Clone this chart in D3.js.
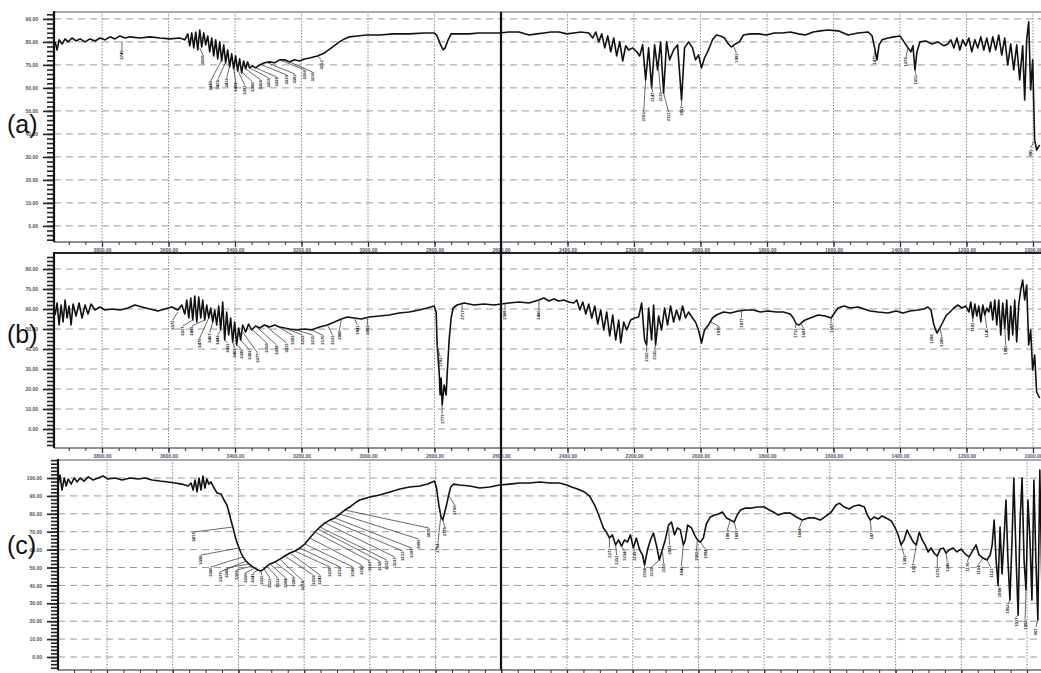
<!DOCTYPE html>
<html>
<head>
<meta charset="utf-8">
<script src="https://cdn.jsdelivr.net/npm/d3@7"></script>
<style>
  body { margin: 0; background: #fff; }
  svg { display: block; }
</style>
</head>
<body>
<div id="chart"></div>
<script>
// spectra: [wavenumber (cm-1), intensity]
const specA = [
  [3941,80.0],[3935,76.5],[3929,80.9],[3920,79.1],[3911,81.3],[3902,80.0],[3890,81.7],[3878,80.4],[3866,81.3],[3851,80.0],
  [3836,81.3],[3821,80.4],[3806,81.7],[3791,80.9],[3776,82.2],[3761,81.3],[3746,82.6],[3731,81.7],[3716,82.2],[3686,81.7],
  [3656,82.2],[3626,81.7],[3596,81.3],[3566,81.7],[3551,80.9],
  [3542,83.5],[3536,78.3],[3530,83.9],[3524,77.4],[3518,84.3],[3512,76.5],[3506,85.2],[3500,77.8],[3494,83.9],[3488,78.7],
  [3482,82.6],[3476,75.7],[3470,81.7],[3464,73.9],[3458,80.9],[3452,72.6],[3446,80.0],[3440,71.7],[3434,78.7],[3428,70.9],
  [3422,76.5],[3416,69.1],[3410,74.8],[3404,68.3],[3398,73.9],[3392,67.4],[3386,72.6],[3380,66.5],[3374,71.7],[3368,68.3],
  [3362,71.3],[3356,68.7],[3347,69.6],[3338,68.7],[3326,70.0],[3311,70.9],[3296,71.3],[3281,70.9],[3266,72.2],[3251,72.2],
  [3236,71.3],[3221,72.2],[3206,71.7],[3191,72.6],[3176,73.0],[3152,73.9],[3131,75.2],[3110,77.4],[3086,80.0],[3071,81.3],
  [3056,82.2],[3032,82.6],[3005,83.0],[2966,83.0],[2921,83.5],[2876,83.5],[2831,83.9],[2801,83.9],[2792,82.6],[2783,79.1],
  [2774,76.5],[2768,77.4],[2759,80.9],[2750,83.5],[2726,83.5],[2696,83.5],[2666,83.9],[2636,83.9],[2606,83.9],[2576,84.3],
  [2546,84.3],[2516,83.0],[2492,83.5],[2471,83.9],[2450,84.3],[2426,84.3],[2402,83.5],[2381,83.9],[2360,84.3],[2336,83.9],
  [2324,81.7],[2315,84.3],[2306,80.0],[2297,83.5],[2288,77.4],[2279,82.6],[2270,75.7],[2261,81.7],[2252,73.9],[2243,80.0],
  [2234,71.7],[2225,78.3],[2216,76.5],[2204,77.4],[2192,75.7],[2183,73.9],
  [2174,78.7],[2165,63.5],[2156,77.4],[2147,60.0],[2138,78.7],[2129,67.8],[2120,80.0],[2111,57.8],[2102,80.0],[2093,72.2],
  [2081,76.5],[2069,78.7],[2057,54.8],[2048,77.4],[2036,80.0],[2024,77.4],[2015,72.2],[2006,74.3],[1997,68.7],[1988,73.0],
  [1976,76.5],[1964,80.9],[1952,83.0],[1940,82.6],[1928,81.7],[1916,79.1],[1907,77.8],[1895,79.1],[1883,80.0],[1871,83.0],
  [1850,83.5],[1826,83.5],[1802,83.0],[1778,83.9],[1754,83.9],[1730,84.3],[1706,83.5],[1685,83.0],[1661,84.3],[1640,84.8],
  [1616,85.2],[1586,84.8],[1556,83.0],[1526,83.9],[1496,84.3],[1484,82.6],[1475,76.5],[1469,72.2],[1463,78.7],[1454,80.9],
  [1436,81.7],[1418,82.2],[1400,82.6],[1388,80.0],[1376,77.4],[1367,75.7],[1361,78.3],[1355,67.8],[1349,75.7],[1340,80.0],
  [1322,80.4],[1304,79.1],[1286,80.0],[1268,78.3],[1256,79.1],
  [1247,80.9],[1238,77.4],[1229,81.7],[1220,76.5],[1211,80.9],[1202,78.3],[1193,81.7],[1184,75.7],[1175,80.9],[1166,77.4],
  [1157,82.2],[1148,76.5],[1139,81.7],[1130,75.7],[1121,82.2],[1112,76.5],[1103,83.0],[1094,74.3],[1085,81.7],[1076,70.0],
  [1067,79.1],[1058,67.8],[1049,78.7],[1040,63.5],[1031,78.3],[1025,54.8],[1019,80.9],[1013,88.7],[1007,59.1],[1001,72.2],
  [995,37.4],[989,33.0],[980,35.2]
];

const specB = [
  [3941,57.0],[3935,63.0],[3929,52.0],[3923,62.0],[3917,53.5],[3911,64.5],[3905,55.5],[3899,61.5],[3893,52.0],[3887,62.5],
  [3878,56.5],[3869,63.0],[3860,55.5],[3851,62.0],[3842,57.5],[3833,62.5],[3821,59.5],[3806,61.0],[3791,59.5],[3770,60.0],
  [3746,59.5],[3722,60.5],[3701,62.0],[3680,61.0],[3656,60.0],[3632,59.0],[3611,60.0],[3590,61.0],[3572,59.5],[3560,62.0],
  [3551,57.5],[3545,64.5],[3539,55.5],[3533,65.5],[3527,54.5],[3521,66.5],[3515,53.5],[3509,66.0],[3503,55.5],[3497,64.5],
  [3491,54.5],[3485,62.0],[3479,55.5],[3473,60.5],[3467,53.5],[3461,59.5],[3455,52.0],[3449,61.5],[3443,49.5],[3437,63.5],
  [3431,44.5],[3425,58.5],[3419,47.0],[3413,55.5],[3407,43.5],[3401,53.5],[3395,42.0],[3389,50.5],[3383,44.5],[3377,52.0],
  [3368,48.5],[3359,52.5],[3350,49.5],[3338,51.5],[3326,50.5],[3311,52.0],[3296,51.0],[3281,52.0],[3266,51.0],[3251,50.5],
  [3236,50.0],[3215,49.5],[3191,50.0],[3170,49.5],[3146,51.0],[3122,52.0],[3101,53.5],[3080,55.0],[3062,56.0],[3041,55.5],
  [3020,55.0],[2996,56.0],[2966,56.5],[2936,57.0],[2906,58.0],[2876,58.5],[2846,59.5],[2822,60.5],[2801,61.5],[2795,58.5],
  [2792,42.0],[2786,28.5],[2783,17.0],[2780,25.5],[2777,12.0],[2771,22.0],[2765,17.0],[2762,27.0],[2756,44.5],[2750,55.5],
  [2744,60.5],[2732,62.0],[2711,63.0],[2681,62.0],[2651,62.5],[2621,62.0],[2600,62.5],[2576,63.0],[2546,63.5],[2516,63.0],
  [2486,64.5],[2471,65.5],[2456,64.0],[2441,65.0],[2426,64.0],[2411,64.5],[2396,63.5],[2381,63.0],
  [2372,64.5],[2363,59.5],[2354,63.5],[2345,57.5],[2336,62.5],[2327,55.5],[2318,61.5],[2309,52.5],[2300,59.5],[2291,49.5],
  [2282,58.5],[2273,46.5],[2264,57.0],[2255,44.5],[2246,54.5],[2240,43.0],[2231,53.5],[2222,49.5],[2210,54.5],[2198,55.5],
  [2186,56.0],[2177,63.0],[2168,44.5],[2162,42.0],[2156,60.5],[2147,44.5],[2141,62.0],[2135,42.0],[2126,56.5],[2117,49.5],
  [2108,60.5],[2099,52.0],[2090,61.5],[2081,53.5],[2072,59.5],[2063,54.5],[2054,61.5],[2045,55.5],[2036,58.5],[2024,55.5],
  [2015,53.5],[2006,49.5],[1997,43.0],[1988,49.5],[1976,52.0],[1964,55.5],[1952,57.0],[1931,58.5],[1910,58.0],[1886,59.0],
  [1862,59.5],[1841,59.5],[1820,58.5],[1796,59.0],[1772,58.5],[1751,58.5],[1730,57.5],[1721,55.5],[1712,52.5],[1703,52.0],
  [1694,53.5],[1685,54.5],[1670,55.5],[1646,57.0],[1625,56.5],[1607,55.5],[1595,58.5],[1586,60.5],[1568,61.5],[1550,60.5],
  [1526,61.0],[1508,60.0],[1490,59.0],[1466,58.5],[1436,58.0],[1412,59.0],[1391,58.0],[1370,59.0],[1346,59.5],[1328,60.0],
  [1316,61.0],[1307,59.5],[1298,52.0],[1289,48.0],[1280,50.5],[1271,53.5],[1262,56.5],[1250,58.5],[1238,60.5],[1226,62.0],
  [1214,60.5],[1202,61.5],
  [1193,58.5],[1187,63.5],[1181,55.5],[1175,62.5],[1169,56.5],[1163,61.5],[1157,53.5],[1151,62.0],[1145,57.0],[1139,60.5],
  [1133,58.5],[1127,63.5],[1121,54.5],[1115,64.5],[1109,52.0],[1103,64.5],[1097,47.0],[1091,63.0],[1085,50.5],[1079,64.5],
  [1073,44.5],[1067,61.5],[1061,47.0],[1055,64.5],[1049,43.5],[1043,62.0],[1037,69.5],[1031,74.5],[1025,64.5],[1019,72.0],
  [1013,42.0],[1007,49.5],[1001,29.5],[995,37.0],[989,18.5],[980,15.5]
];

const specC = [
  [3949,96.1],[3943,101.7],[3937,93.3],[3930,100.0],[3924,95.5],[3918,99.4],[3909,96.6],[3900,100.0],[3891,97.8],[3882,100.0],
  [3870,98.3],[3857,100.6],[3842,98.9],[3827,100.0],[3812,101.1],[3797,99.4],[3775,100.0],[3754,98.9],[3730,100.0],[3705,99.4],
  [3684,100.0],[3663,98.9],[3639,98.3],[3614,97.8],[3593,97.2],[3572,96.6],[3553,95.5],[3544,97.2],
  [3538,93.3],[3532,98.9],[3526,92.2],[3520,100.0],[3514,93.3],[3508,101.1],[3502,94.4],[3496,99.4],[3490,96.6],[3484,97.8],
  [3474,94.4],[3465,91.6],[3453,91.1],[3444,87.7],[3435,84.9],[3429,81.0],[3423,76.5],[3417,72.6],[3411,68.2],[3405,64.2],
  [3398,60.9],[3392,58.1],[3386,55.9],[3377,53.6],[3368,52.0],[3359,50.8],[3350,49.7],[3341,48.6],[3332,48.0],[3322,49.2],
  [3313,50.8],[3304,52.0],[3289,53.1],[3274,54.7],[3259,56.4],[3243,58.1],[3228,59.2],[3213,60.9],[3198,63.1],[3183,66.5],
  [3167,69.8],[3152,72.6],[3137,74.9],[3122,76.5],[3107,77.7],[3091,79.9],[3076,82.1],[3061,83.8],[3046,86.0],[3031,87.7],
  [3000,89.4],[2970,90.5],[2939,92.2],[2909,93.9],[2879,95.0],[2848,95.5],[2824,96.6],[2803,98.3],[2797,94.4],[2790,84.9],
  [2784,78.8],[2778,76.5],[2772,81.0],[2766,85.5],[2760,90.5],[2754,95.0],[2745,96.6],[2727,96.1],[2696,95.5],[2666,94.4],
  [2635,95.0],[2605,96.1],[2575,96.6],[2544,97.2],[2514,97.2],[2483,97.8],[2453,97.2],[2423,97.2],[2401,96.1],[2386,95.0],
  [2368,93.9],[2347,92.2],[2331,89.9],[2316,84.9],[2307,81.0],[2298,76.5],[2289,72.1],[2280,69.8],[2271,66.5],[2262,68.2],
  [2252,62.6],[2243,65.4],[2234,62.0],[2225,65.4],[2216,64.2],[2207,68.2],[2198,60.9],[2189,66.5],[2179,59.8],[2170,57.0],
  [2164,51.4],[2155,59.8],[2146,65.4],[2137,69.3],[2128,62.6],[2119,54.2],[2110,59.8],[2101,65.4],[2091,73.7],[2082,75.4],
  [2073,68.2],[2064,72.1],[2055,71.0],[2046,62.6],[2040,65.4],[2033,73.7],[2021,72.1],[2012,68.2],[2003,65.4],[1994,64.2],
  [1985,66.5],[1976,74.3],[1964,78.2],[1951,79.3],[1939,79.9],[1927,81.0],[1915,77.7],[1903,76.5],[1891,75.4],[1882,79.3],
  [1872,82.1],[1857,83.2],[1839,83.2],[1821,83.8],[1800,83.8],[1784,82.1],[1772,81.0],[1757,79.3],[1739,80.4],[1720,80.4],
  [1702,78.2],[1684,76.5],[1666,77.7],[1647,77.7],[1629,76.5],[1611,78.8],[1596,81.0],[1581,84.9],[1571,86.0],[1556,83.8],
  [1541,82.7],[1526,84.4],[1511,84.9],[1495,83.8],[1486,79.3],[1477,76.5],[1465,78.2],[1453,77.1],[1441,78.8],[1429,77.7],
  [1413,76.0],[1401,72.1],[1392,68.2],[1383,62.6],[1374,65.4],[1365,70.9],[1356,67.6],[1346,64.2],[1337,62.6],[1328,69.8],
  [1319,65.4],[1310,62.6],[1301,58.7],[1292,60.9],[1283,58.1],[1273,56.4],[1264,60.3],[1255,60.9],[1246,58.1],[1237,59.8],
  [1225,60.9],[1213,58.7],[1201,60.3],[1188,57.5],[1176,55.9],[1164,59.8],[1155,62.6],[1146,57.0],[1134,55.3],[1122,54.2],
  [1112,57.0],
  [1106,62.6],[1100,76.5],[1094,54.2],[1088,40.2],[1082,72.6],[1076,46.4],[1070,65.9],[1064,87.7],[1058,54.2],[1052,31.8],
  [1046,62.6],[1040,100.0],[1033,54.2],[1027,23.5],[1021,76.5],[1015,100.0],[1009,54.2],[1003,37.4],[997,87.7],[991,65.4],
  [985,31.8],[979,98.9],[973,54.2],[967,20.7],[961,104.5],[954,31.8]
];

// picked peaks: [peak wavenumber, peak intensity, label wavenumber, label intensity]
const peaksA = [
  [3740,80.4,3740,74.3],[3506,77.4,3497,72.2],
  [3440,72.2,3473,60.9],[3428,71.3,3452,61.3],[3416,69.6,3425,62.2],[3404,68.7,3398,60.4],[3392,67.8,3371,59.1],
  [3380,67.0,3347,60.4],[3368,68.3,3323,61.3],[3356,68.7,3299,62.2],[3338,68.7,3275,62.6],[3320,70.0,3245,63.5],
  [3302,70.9,3221,63.9],[3266,72.2,3191,65.7],[3236,71.3,3167,64.8],[3152,73.9,3140,70.0],
  [2165,63.5,2171,47.4],[2147,60.9,2144,56.0],[2126,67.8,2120,56.1],[2111,57.8,2096,47.4],[2057,54.8,2057,50.0],
  [1901,78.3,1892,73.0],[1475,76.5,1478,72.2],[1376,77.4,1382,71.3],[1355,67.8,1352,63.5],[995,37.4,1007,31.7]
];

const peaksB = [
  [3572,58.5,3587,52.0],[3527,54.5,3557,49.0],[3491,54.5,3530,49.0],[3479,55.5,3506,43.0],[3467,53.5,3476,45.5],
  [3443,49.5,3452,44.5],[3431,44.5,3422,40.5],[3407,43.5,3401,38.0],[3395,42.0,3380,37.5],[3383,44.5,3356,37.0],
  [3377,48.5,3332,35.5],[3359,51.5,3305,40.5],[3338,51.5,3275,39.5],[3311,52.0,3245,40.5],[3281,52.0,3227,44.5],
  [3251,50.5,3197,44.5],[3215,49.5,3167,44.5],[3170,49.5,3137,44.5],[3122,52.0,3107,44.5],[3080,55.0,3086,47.0],
  [3041,55.5,3032,49.5],[3002,56.0,3002,49.5],[2792,42.0,2783,33.5],[2777,12.0,2777,5.0],
  [2717,62.5,2717,57.0],[2588,62.5,2588,57.0],[2486,64.5,2486,57.0],[2162,42.0,2162,36.0],[2135,42.0,2138,37.0],
  [1970,53.5,1946,49.0],[1877,59.0,1877,53.0],[1712,52.5,1715,48.0],[1697,53.0,1691,48.0],[1607,55.5,1607,50.5],
  [1289,48.0,1304,45.0],[1280,50.5,1274,43.5],[1181,55.5,1181,51.0],[1145,57.0,1139,48.0],[1085,50.5,1082,39.5]
];

const peaksC = [
  [3417,72.6,3538,67.0],[3398,60.9,3514,54.2],[3386,55.9,3484,47.5],[3377,53.6,3456,44.7],[3368,52.0,3435,46.9],
  [3359,50.8,3405,45.8],[3350,49.7,3380,44.1],[3341,48.6,3356,44.1],[3332,48.0,3329,43.0],[3322,49.2,3304,41.3],
  [3313,50.8,3280,41.3],[3304,52.0,3256,41.3],[3289,53.1,3231,41.9],[3274,54.7,3204,39.7],[3259,56.4,3173,43.0],
  [3243,58.1,3152,43.0],[3228,59.2,3122,47.5],[3213,60.9,3091,47.5],[3198,63.1,3052,47.5],[3183,66.5,3025,48.6],
  [3167,69.8,3000,50.8],[3158,71.5,2970,50.8],[3152,72.6,2949,51.4],[3137,74.9,2924,53.1],[3122,76.5,2900,56.4],
  [3107,77.7,2873,58.1],[3091,79.9,2851,63.1],[3076,82.1,2821,69.3],[2784,78.8,2793,60.9],[2778,76.5,2772,70.0],
  [2760,90.5,2742,82.1],
  [2271,66.5,2271,58.1],[2252,62.6,2249,54.2],[2234,62.0,2225,56.4],[2198,60.9,2195,56.4],[2164,51.4,2164,47.0],
  [2119,54.2,2143,47.5],[2110,59.8,2106,49.7],[2091,73.7,2088,59.8],[2046,62.6,2052,48.0],[2003,65.4,2006,56.4],
  [1994,64.2,1979,57.5],[1903,76.5,1912,68.2],[1891,75.4,1885,68.2],[1684,76.5,1693,69.3],[1477,76.5,1474,68.2],
  [1383,62.6,1374,54.2],[1337,62.6,1346,49.7],[1273,56.4,1273,46.9],[1246,58.1,1243,50.3],[1176,55.9,1182,50.3],
  [1134,55.3,1149,48.6],[1122,54.2,1109,46.9],[1088,40.2,1085,36.0],[1052,31.8,1058,26.8],[1027,23.5,1033,19.5],
  [1003,37.4,1006,17.9],[967,20.7,973,14.0]
];

const xTicks = d3.range(3800, 999, -200);
const xMinor = d3.range(3900, 949, -50);
const breakWn = 2600;
const panelNames = ["(a)", "(b)", "(c)"];
const yTicksA = d3.range(0, 91, 10);
const yTicksB = d3.range(0, 81, 10);
const yTicksC = d3.range(0, 101, 10);

const W = 1041, H = 673;
const svg = d3.select("#chart").append("svg").attr("width", W).attr("height", H);
svg.append("rect").attr("width", W).attr("height", H).attr("fill", "#fff");

const panels = [
  { spec: specA, peaks: peaksA, yTicks: yTicksA, top: 12, bottom: 242, left: 54, xr: [102, 1033], yDom: [-7, 93], border: "#aaa", labelY: 133 },
  { spec: specB, peaks: peaksB, yTicks: yTicksB, top: 253, bottom: 448, left: 54, xr: [102, 1033], yDom: [-9.5, 88], border: "#222", labelY: 343 },
  { spec: specC, peaks: peaksC, yTicks: yTicksC, top: 460, bottom: 670, left: 58, xr: [107, 1027], yDom: [-7.26, 110.06], border: "#aaa", labelY: 554 }
];

const fmt = d3.format(".2f");
let xFirst;

panels.forEach((p, i) => {
  const x = d3.scaleLinear().domain([3800, 1000]).range(p.xr);
  const y = d3.scaleLinear().domain(p.yDom).range([p.bottom, p.top]);
  if (i === 0) xFirst = x;
  const g = svg.append("g");

  svg.append("clipPath").attr("id", "clip" + i)
    .append("rect")
    .attr("x", p.left).attr("y", p.top)
    .attr("width", W - p.left).attr("height", p.bottom - p.top);

  // dashed horizontal grid
  g.selectAll(".hg").data(p.yTicks).join("line").attr("class", "hg")
    .attr("x1", p.left).attr("x2", W)
    .attr("y1", d => y(d)).attr("y2", d => y(d))
    .attr("stroke", "#9a9a9a").attr("stroke-width", 1).attr("stroke-dasharray", "7,5");

  // dotted vertical grid
  g.selectAll(".vg").data(xTicks.filter(d => d !== breakWn)).join("line").attr("class", "vg")
    .attr("x1", d => x(d)).attr("x2", d => x(d))
    .attr("y1", p.top).attr("y2", p.bottom)
    .attr("stroke", "#8a8a8a").attr("stroke-width", 1).attr("stroke-dasharray", "1.5,1.5");

  // top border
  g.append("line")
    .attr("x1", p.left).attr("x2", W).attr("y1", p.top).attr("y2", p.top)
    .attr("stroke", p.border).attr("stroke-width", 2);

  // y axis: minor comb + labelled major ticks
  const yMinor = d3.range(Math.ceil(p.yDom[0] / 2) * 2, p.yDom[1], 2);
  g.append("g").attr("transform", `translate(${p.left},0)`)
    .call(d3.axisLeft(y).tickValues(yMinor).tickSize(7).tickSizeOuter(0).tickFormat(""))
    .call(a => a.select(".domain").remove())
    .call(a => a.selectAll("line").attr("stroke", "#222").attr("stroke-width", 1.6));

  g.append("g").attr("transform", `translate(${p.left},0)`)
    .call(d3.axisLeft(y).tickValues(p.yTicks).tickSize(11).tickSizeOuter(0).tickFormat(fmt))
    .call(a => a.select(".domain").remove())
    .call(a => a.selectAll("line").attr("stroke", "#222").attr("stroke-width", 1.6))
    .call(a => a.selectAll("text").attr("x", -16).attr("font-size", 5).attr("font-weight", "bold")
      .attr("font-family", "Liberation Sans, Arial, sans-serif").attr("fill", "#555"));

  g.append("line")
    .attr("x1", p.left).attr("x2", p.left).attr("y1", p.top - 1).attr("y2", p.bottom)
    .attr("stroke", "#111").attr("stroke-width", 2.2);

  // x axis
  g.append("g").attr("transform", `translate(0,${p.bottom})`)
    .call(d3.axisBottom(x).tickValues(xMinor.filter(d => x(d) > p.left)).tickSize(3).tickSizeOuter(0).tickFormat(""))
    .call(a => a.select(".domain").remove())
    .call(a => a.selectAll("line").attr("stroke", "#333"));

  g.append("g").attr("transform", `translate(0,${p.bottom})`)
    .call(d3.axisBottom(x).tickValues(xTicks).tickSize(5).tickSizeOuter(0).tickFormat(fmt))
    .call(a => a.select(".domain").remove())
    .call(a => a.selectAll("line").attr("stroke", "#333").attr("stroke-width", 1.3))
    .call(a => a.selectAll("text").attr("y", 6).attr("font-size", 5).attr("font-weight", "bold")
      .attr("font-family", "Liberation Sans, Arial, sans-serif").attr("fill", "#4d5670"));

  g.append("line")
    .attr("x1", p.left).attr("x2", W).attr("y1", p.bottom).attr("y2", p.bottom)
    .attr("stroke", "#222").attr("stroke-width", 1.2);

  // spectrum trace
  const plot = g.append("g").attr("clip-path", `url(#clip${i})`);
  plot.append("path")
    .datum(p.spec)
    .attr("d", d3.line().x(d => x(d[0])).y(d => y(d[1])))
    .attr("fill", "none")
    .attr("stroke", "#111")
    .attr("stroke-width", 1.6)
    .attr("stroke-linejoin", "round");

  // peak leaders and labels
  p.peaks.forEach(d => {
    const px = x(d[0]), py = y(d[1]);
    const lx = x(d[2]), ly = y(d[3]);
    if (ly - 5 > py + 1) {
      plot.append("line")
        .attr("x1", px).attr("y1", py).attr("x2", lx).attr("y2", ly - 5)
        .attr("stroke", "#444").attr("stroke-width", 0.8);
    }
    plot.append("text")
      .attr("transform", `translate(${lx},${ly}) rotate(-90)`)
      .attr("text-anchor", "middle")
      .attr("dominant-baseline", "central")
      .attr("font-size", 4.2)
      .attr("font-weight", "bold")
      .attr("font-family", "Liberation Sans, Arial, sans-serif")
      .attr("fill", "#1e1a16")
      .text(Math.round(d[0]));
  });

  // panel letter
  svg.append("text")
    .attr("x", 7).attr("y", p.labelY)
    .attr("font-size", 25)
    .attr("font-family", "Liberation Sans, Arial, sans-serif")
    .attr("fill", "#111")
    .text(panelNames[i]);
});

// solid marker line through all three panels
svg.append("line")
  .attr("x1", xFirst(breakWn)).attr("x2", xFirst(breakWn))
  .attr("y1", panels[0].top).attr("y2", panels[2].bottom)
  .attr("stroke", "#111").attr("stroke-width", 2.2);
</script>
</body>
</html>
